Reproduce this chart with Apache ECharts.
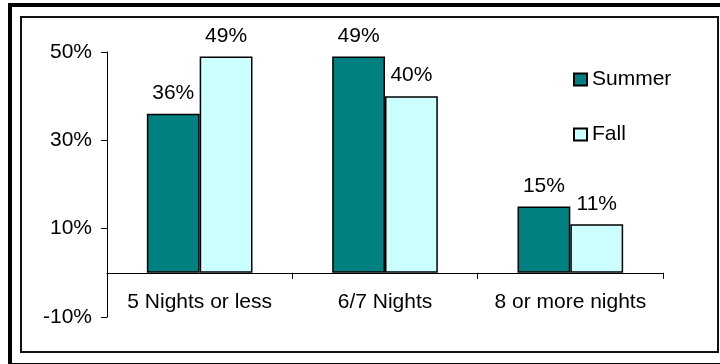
<!DOCTYPE html>
<html>
<head>
<meta charset="utf-8">
<script src="https://cdn.jsdelivr.net/npm/echarts@6/dist/echarts.min.js"></script>
<style>
  html, body { margin: 0; padding: 0; background: #fff; }
  #chart { width: 720px; height: 364px; }
</style>
</head>
<body>
<div id="chart"></div>
<script>
// nights stayed, share of visitors
let categories = ['5 Nights or less', '6/7 Nights', '8 or more nights']
let summer = [36, 49, 15]
let fall = [49, 40, 11]
let yMin = -10
let yMax = 50
let yStep = 20

let font = 'Liberation Sans, Arial, sans-serif'
let chart = echarts.init(document.getElementById('chart'))

chart.setOption({
  animation: false,
  textStyle: { fontFamily: font, color: '#000' },
  graphic: [
    {
      type: 'rect',
      shape: { x: 10, y: 5, width: 720, height: 360 },
      style: { fill: 'none', stroke: '#000', lineWidth: 4 }
    },
    {
      type: 'rect',
      shape: { x: 21, y: 17, width: 697, height: 335 },
      style: { fill: 'none', stroke: '#111', lineWidth: 2 }
    }
  ],
  grid: { left: 107, right: 57, top: 52, bottom: 47 },
  legend: {
    orient: 'vertical',
    left: 568,
    top: 64,
    itemWidth: 13,
    itemHeight: 12,
    itemGap: 34,
    icon: 'rect',
    textStyle: { fontSize: 21, fontFamily: font, color: '#000' },
    data: ['Summer', 'Fall']
  },
  xAxis: {
    type: 'category',
    data: categories,
    axisLine: { onZero: true, lineStyle: { color: '#000', width: 1 } },
    axisTick: { show: true, length: 6, alignWithLabel: false, lineStyle: { color: '#000' } },
    axisLabel: { interval: 0, fontSize: 21, color: '#000', margin: -25, fontFamily: font }
  },
  yAxis: {
    type: 'value',
    min: yMin,
    max: yMax,
    interval: yStep,
    splitLine: { show: false },
    axisLine: { show: true, lineStyle: { color: '#000', width: 1 } },
    axisTick: { show: true, length: 6, lineStyle: { color: '#000' } },
    axisLabel: {
      fontSize: 21,
      color: '#000',
      margin: 15,
      fontFamily: font,
      formatter: function(v) {
        return v + '%'
      }
    }
  },
  series: [
    {
      name: 'Summer',
      type: 'bar',
      data: summer,
      barGap: '0%',
      barCategoryGap: '43%',
      itemStyle: { color: '#008080', borderColor: '#000', borderWidth: 1.5 },
      label: {
        show: true,
        position: 'top',
        distance: 10,
        fontSize: 21,
        color: '#000',
        fontFamily: font,
        formatter: '{c}%'
      }
    },
    {
      name: 'Fall',
      type: 'bar',
      data: fall,
      itemStyle: { color: '#CCFFFF', borderColor: '#000', borderWidth: 1.5 },
      label: {
        show: true,
        position: 'top',
        distance: 10,
        fontSize: 21,
        color: '#000',
        fontFamily: font,
        formatter: '{c}%'
      }
    }
  ]
})
</script>
</body>
</html>
